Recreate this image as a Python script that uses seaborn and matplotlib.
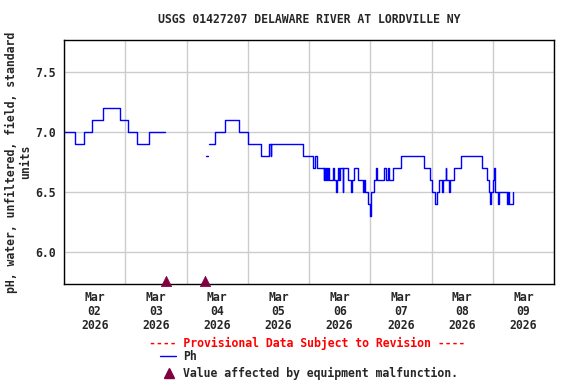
import numpy as np
import pandas as pd
import matplotlib
matplotlib.use("Agg")
import matplotlib.pyplot as plt
import matplotlib.dates as mdates
from matplotlib.lines import Line2D
import seaborn as sns

# ---- data (hours after 2026-03-02 00:00, step values) ----
seg1_hours = [0, 4.25, 8, 11, 15.25, 22, 25, 28.75, 33.5, 39.75]
seg1_vals = [7.0, 6.9, 7.0, 7.1, 7.2, 7.1, 7.0, 6.9, 7.0, 7.0]

seg2_hours = [55.5, 56.25]
seg2_vals = [6.8, 6.8]

seg3_hours = [57, 59.2, 63.1, 68.7, 72.1, 77.2, 80.3, 81.0, 81.25, 93.8, 97.6, 98.5, 99.0,
              101.8, 102.0, 102.3, 102.5, 103.0, 103.5, 103.8, 105.3, 105.7, 106.6, 106.9,
              107.3, 107.7, 108.1, 109.2, 109.5, 111.2, 112.5, 112.8, 113.8, 115.1, 117.0,
              117.4, 117.8, 119.0, 119.8, 120.1, 120.3, 121.6, 122.3, 122.5, 125.4, 126.3,
              126.8, 127.2, 128.9, 132.2, 141.1, 143.3, 144.0, 145.3, 146.2, 146.9, 148.1,
              148.4, 149.6, 149.8, 150.9, 151.4, 152.7, 155.7, 163.7, 165.8, 166.4, 166.8,
              167.3, 168.0, 168.4, 168.7, 170.0, 170.6, 173.6, 174.1, 174.3, 175.8, 176.0]
seg3_vals = [6.9, 7.0, 7.1, 7.0, 6.9, 6.8, 6.9, 6.8, 6.9, 6.8, 6.7, 6.8, 6.7,
             6.6, 6.7, 6.6, 6.7, 6.6, 6.7, 6.6, 6.7, 6.6, 6.5, 6.6,
             6.7, 6.6, 6.7, 6.5, 6.7, 6.6, 6.5, 6.6, 6.7, 6.6, 6.5,
             6.6, 6.5, 6.4, 6.3, 6.4, 6.5, 6.6, 6.7, 6.6, 6.7, 6.6,
             6.7, 6.6, 6.7, 6.8, 6.7, 6.6, 6.5, 6.4, 6.5, 6.6, 6.5,
             6.6, 6.7, 6.6, 6.5, 6.6, 6.7, 6.8, 6.7, 6.6, 6.5, 6.4,
             6.5, 6.6, 6.7, 6.5, 6.4, 6.5, 6.4, 6.5, 6.4, 6.5, 6.5]

malfunction_hours = [39.85, 55.1]
malfunction_vals = [5.762, 5.762]

tick_labels = ["Mar\n02\n2026", "Mar\n03\n2026", "Mar\n04\n2026", "Mar\n05\n2026",
               "Mar\n06\n2026", "Mar\n07\n2026", "Mar\n08\n2026", "Mar\n09\n2026"]
y_ticks = [6.0, 6.5, 7.0, 7.5]

title = "USGS 01427207 DELAWARE RIVER AT LORDVILLE NY"
ylabel = "pH, water, unfiltered, field, standard\nunits"

# ---- build ----
base = pd.Timestamp("2026-03-02")
frames = []
for sid, (h, v) in enumerate([(seg1_hours, seg1_vals), (seg2_hours, seg2_vals), (seg3_hours, seg3_vals)]):
    frames.append(pd.DataFrame({"time": base + pd.to_timedelta(h, unit="h"), "ph": v, "seg": sid}))
df = pd.concat(frames, ignore_index=True)
mal = pd.DataFrame({"time": base + pd.to_timedelta(malfunction_hours, unit="h"), "ph": malfunction_vals})

sns.set_theme(style="white")
mono = ["DejaVu Sans Mono"]
plt.rcParams["font.family"] = mono
plt.rcParams["font.weight"] = "bold"

fig = plt.figure(figsize=(5.76, 3.84), dpi=100)
ax = fig.add_axes([64 / 576, 1 - 284 / 384, 490 / 576, 244 / 384])

for sid, g in df.groupby("seg"):
    sns.lineplot(data=g, x="time", y="ph", ax=ax, color="#0000ff", linewidth=1.0,
                 drawstyle="steps-post", estimator=None, sort=False, legend=False)

sns.scatterplot(data=mal, x="time", y="ph", ax=ax, marker="^", s=55, color="#800040",
                edgecolor="#800040", linewidth=0.5, legend=False, zorder=5, clip_on=False)

ax.set_xlim(base, base + pd.Timedelta(days=8))
ax.set_ylim(5.733, 7.767)

ax.xaxis.set_major_locator(mdates.DayLocator())
ax.xaxis.set_major_formatter(plt.NullFormatter())
noon = [mdates.date2num(base + pd.Timedelta(hours=12 + 24 * i)) for i in range(8)]
ax.set_xticks(noon, minor=True)
ax.set_xticklabels(tick_labels, minor=True, fontsize=8.3, fontweight="bold", linespacing=1.08)
ax.set_yticks(y_ticks)
ax.set_yticklabels([f"{t:.1f}" for t in y_ticks], fontsize=8.3, fontweight="bold")
ax.tick_params(axis="both", which="both", length=0, pad=6)
ax.tick_params(axis="x", which="minor", pad=5)

ax.grid(True, which="major", color="#cccccc", linewidth=1.0)
for s in ax.spines.values():
    s.set_color("black")
    s.set_linewidth(1.0)

ax.set_xlabel("")
ax.set_ylabel(ylabel, fontsize=8.3, fontweight="bold", linespacing=1.1, labelpad=2)
ax.set_title(title, fontsize=8.3, fontweight="bold", pad=12)

# ---- legend below ----
fig.text(307 / 576, 1 - 343 / 384, "---- Provisional Data Subject to Revision ----",
         color="red", fontsize=8.3, fontweight="bold", ha="center", va="center")
fig.add_artist(Line2D([160 / 576, 176 / 576], [1 - 356 / 384, 1 - 356 / 384], color="#0000ff", linewidth=1.0))
fig.text(183 / 576, 1 - 356 / 384, "Ph", fontsize=8.3, fontweight="bold", ha="left", va="center")
fig.add_artist(Line2D([169 / 576], [1 - 373 / 384], marker="^", markersize=7.5, color="#800040", linestyle="none"))
fig.text(183 / 576, 1 - 373 / 384, "Value affected by equipment malfunction.", fontsize=8.3,
         fontweight="bold", ha="left", va="center")

fig.savefig("out.png", dpi=100)
